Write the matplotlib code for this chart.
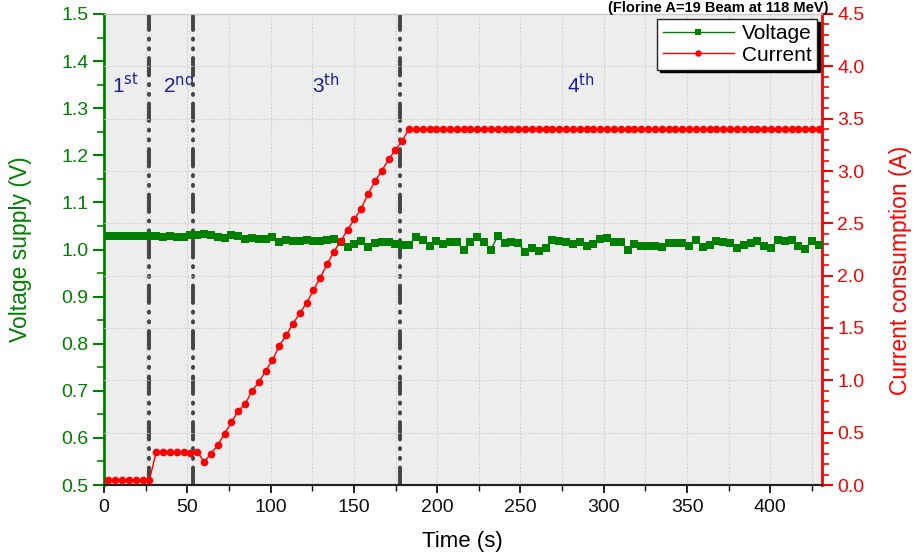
import numpy as np
import matplotlib
matplotlib.use("Agg")
import matplotlib.pyplot as plt
from matplotlib.ticker import MultipleLocator, FormatStrFormatter

plt.rcParams['font.family'] = ['Liberation Sans', 'DejaVu Sans']
plt.rcParams['mathtext.default'] = 'regular'

# Sampling times (s): one reading roughly every 4.1 s
time_start = 2.7
time_step = 4.1
n_samples = 105
time_s = time_start + time_step * np.arange(n_samples)

voltage_v = [
    1.029, 1.029, 1.029, 1.029, 1.029, 1.028, 1.028, 1.028, 1.027, 1.028,
    1.027, 1.027, 1.030, 1.031, 1.033, 1.031, 1.027, 1.024, 1.031, 1.029,
    1.022, 1.024, 1.022, 1.022, 1.026, 1.016, 1.020, 1.019, 1.017, 1.021,
    1.018, 1.019, 1.020, 1.022, 1.016, 1.005, 1.012, 1.018, 1.005, 1.013,
    1.016, 1.015, 1.011, 1.010, 1.010, 1.026, 1.020, 1.007, 1.019, 1.011,
    1.015, 1.015, 1.000, 1.015, 1.027, 1.015, 1.000, 1.029, 1.013, 1.015,
    1.013, 0.995, 1.004, 0.997, 1.003, 1.020, 1.018, 1.015, 1.011, 1.015,
    1.007, 1.011, 1.022, 1.024, 1.015, 1.016, 0.999, 1.012, 1.007, 1.007,
    1.007, 1.006, 1.013, 1.013, 1.013, 1.007, 1.020, 1.005, 1.010, 1.017,
    1.015, 1.013, 1.003, 1.010, 1.013, 1.018, 1.007, 1.003, 1.020, 1.019,
    1.020, 1.007, 1.002, 1.019, 1.010,
]

current_a = (
    [0.05] * 7
    + [0.32, 0.32, 0.32, 0.32, 0.32, 0.31, 0.32]
    + [0.22, 0.30, 0.38, 0.49, 0.60, 0.71, 0.77, 0.90, 0.98, 1.09,
       1.19, 1.33, 1.43, 1.54, 1.64, 1.74, 1.86, 1.98, 2.11, 2.23,
       2.33, 2.44, 2.54, 2.64, 2.78, 2.90, 3.00, 3.11, 3.20, 3.29]
    + [3.40] * 61
)

phase_bounds = [27.0, 53.5, 177.5]
phase_labels = ['1', '2', '3', '4']
phase_suffix = ['st', 'nd', 'th', 'th']
phase_label_x = [13, 44.5, 133, 286]

V_RANGE = (0.5, 1.5)
A_RANGE = (0.0, 4.5)

GREEN = '#008000'
RED = '#ff0000'
NAVY = '#1c1c9c'

fig = plt.figure(figsize=(9.14, 5.57), dpi=100)
ax = fig.add_axes([104 / 914, 1 - 485 / 557, 718 / 914, 471 / 557])
ax2 = ax.twinx()
ax.set_facecolor('#ededed')
ax2.patch.set_visible(False)

ax.set_xlim(0, 431)
ax.set_ylim(*V_RANGE)
ax2.set_ylim(*A_RANGE)

# ticks and grid
ax.xaxis.set_major_locator(MultipleLocator(50))
ax.xaxis.set_minor_locator(MultipleLocator(25))
ax.yaxis.set_major_locator(MultipleLocator(0.1))
ax.yaxis.set_minor_locator(MultipleLocator(0.05))
ax2.yaxis.set_major_locator(MultipleLocator(0.5))
ax2.yaxis.set_minor_locator(MultipleLocator(0.1))
grid_style = dict(color='#cfcfcf', linestyle=(0, (1.5, 1.5)), linewidth=0.8)
ax.grid(True, which='both', axis='x', **grid_style)
ax2.grid(True, which='major', axis='y', **grid_style)
ax.set_axisbelow(True)

# phase boundaries
for xb in phase_bounds:
    ax2.axvline(xb, color='#444444', linewidth=2.8, dashes=(4.5, 2.2, 0.3, 2.2, 0.3, 2.2),
                dash_capstyle='round', zorder=1)

# voltage is plotted against the left (V) scale, mapped onto the shared drawing axes
volt_on_right = [A_RANGE[0] + (v - V_RANGE[0]) / (V_RANGE[1] - V_RANGE[0]) * (A_RANGE[1] - A_RANGE[0])
                 for v in voltage_v]
volt_line, = ax2.plot(time_s, volt_on_right, color=GREEN, linewidth=1.0, marker='s',
                      markersize=5.5, markeredgewidth=0, label='Voltage', zorder=3)
curr_line, = ax2.plot(time_s, current_a, color=RED, linewidth=1.0, marker='o',
                      markersize=5.5, markeredgewidth=0, label='Current', zorder=4)

# phase labels
for lx, num, suf in zip(phase_label_x, phase_labels, phase_suffix):
    ax.text(lx, 1.349, num + r'$^{\mathrm{' + suf + '}}$', color=NAVY, fontsize=15,
            ha='center', va='center')

# spines
ax.spines['left'].set_color(GREEN)
ax.spines['left'].set_linewidth(2.0)
ax2.spines['left'].set_visible(False)
ax2.spines['right'].set_color(RED)
ax2.spines['right'].set_linewidth(2.0)
ax.spines['right'].set_visible(False)
for a in (ax, ax2):
    a.spines['top'].set_color('#c8c8c8')
    a.spines['top'].set_linewidth(0.8)
    a.spines['bottom'].set_color('#222222')
    a.spines['bottom'].set_linewidth(1.5)

ax.tick_params(axis='y', which='major', colors=GREEN, labelsize=14, length=8, width=1.5, pad=3)
ax.tick_params(axis='y', which='minor', colors=GREEN, length=5, width=1.2)
ax2.tick_params(axis='y', which='major', colors=RED, labelsize=14, length=8, width=1.5, pad=3)
ax2.tick_params(axis='y', which='minor', colors=RED, length=5, width=1.2)
ax.tick_params(axis='x', which='major', colors='#111111', labelsize=14, length=6, width=1.3, pad=4)
ax.tick_params(axis='x', which='minor', colors='#111111', length=4, width=1.0)
ax.yaxis.set_major_formatter(FormatStrFormatter('%.1f'))
ax2.yaxis.set_major_formatter(FormatStrFormatter('%.1f'))

ax.set_xlabel('Time (s)', fontsize=16)
ax.set_ylabel('Voltage supply (V)', fontsize=16.5, color=GREEN)
ax2.set_ylabel('Current consumption (A)', fontsize=16.5, color=RED)
ax.xaxis.set_label_coords(0.4986, -0.098)
ax.yaxis.set_label_coords(-0.1, 0.5)
ax2.yaxis.set_label_coords(1.093, 0.456)

leg = ax2.legend(handles=[volt_line, curr_line], loc='upper right', fontsize=15,
                 frameon=True, fancybox=False, shadow={'color': 'black', 'alpha': 1.0},
                 borderaxespad=0.25, handlelength=3.4, handletextpad=0.4,
                 borderpad=0.25, labelspacing=0.1, markerscale=0.85)
leg.get_frame().set_edgecolor('#222222')
leg.get_frame().set_linewidth(1.0)
leg.get_frame().set_facecolor('white')
leg.set_zorder(10)

fig.text(0.906, 0.999, '(Florine A=19 Beam at 118 MeV)', fontsize=10.5, fontweight='bold',
         ha='right', va='top')

fig.savefig('out.png', dpi=100)
